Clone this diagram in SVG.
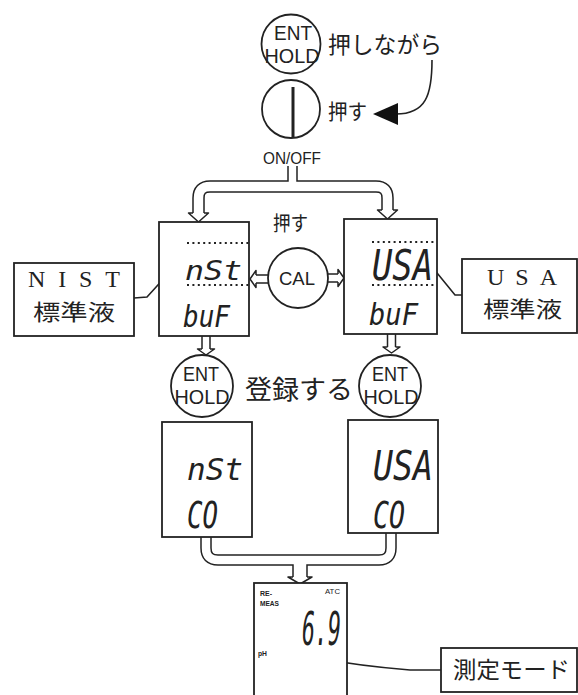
<svg xmlns="http://www.w3.org/2000/svg" width="578" height="695" viewBox="0 0 578 695">
<defs>
<style>
.bg{fill:#ffffff}
.ln{fill:none;stroke:#222;stroke-width:1.6}
.box{fill:#fff;stroke:#222;stroke-width:1.8}
.circ{fill:#fff;stroke:#222;stroke-width:1.8}
.pb{fill:none;stroke:#222;stroke-linejoin:round}
.pw{fill:none;stroke:#fff;stroke-linejoin:round}
.ah{fill:#fff;stroke:#222;stroke-width:1.5;stroke-linejoin:round}
.dot{stroke:#222;stroke-width:2;stroke-dasharray:2 3.4}
.sans{font-family:"Liberation Sans","DejaVu Sans",sans-serif;fill:#222}
.serif{font-family:"Liberation Serif","DejaVu Serif",serif;fill:#222}
.jp{font-family:"Noto Sans CJK JP","Noto Sans CJK SC",sans-serif;fill:#222}
.seg{font-family:"DejaVu Sans Mono","Liberation Mono",monospace;fill:#222;font-style:italic}
</style>
</defs>
<rect class="bg" width="578" height="695"/>

<g id="connectors">
  <!-- top pipe -->
  <path class="pb" stroke-width="12.5" d="M198.5,213 V198 Q198.5,186.5 210,186.5 H376 Q387.5,186.5 387.5,198 V210"/>
  <path class="pb" stroke-width="10.5" d="M292.5,166 V186.5"/>
  <!-- CAL arrows -->
  <path class="pb" stroke-width="9.5" d="M268,279 H256"/>
  <path class="pb" stroke-width="9.5" d="M328,278 H338"/>
  <!-- ENT arrows -->
  <path class="pb" stroke-width="9.5" d="M206,336 V349"/>
  <path class="pb" stroke-width="9.5" d="M391.5,334 V347"/>
  <!-- bottom pipe -->
  <path class="pb" stroke-width="11.5" d="M206,537 V548 Q206,560 218,560 H379 Q391,560 391,548 V533"/>
  <path class="pb" stroke-width="15.5" d="M300,560 V577"/>

  <path class="pw" stroke-width="9.5" d="M198.5,213 V198 Q198.5,186.5 210,186.5 H376 Q387.5,186.5 387.5,198 V210"/>
  <path class="pw" stroke-width="7.5" d="M292.5,165 V186.5"/>
  <path class="pw" stroke-width="6.5" d="M268.5,279 H256"/>
  <path class="pw" stroke-width="6.5" d="M327.5,278 H338"/>
  <path class="pw" stroke-width="6.5" d="M206,335.5 V349"/>
  <path class="pw" stroke-width="6.5" d="M391.5,333.5 V347"/>
  <path class="pw" stroke-width="8.5" d="M206,537 V548 Q206,560 218,560 H379 Q391,560 391,548 V533"/>
  <path class="pw" stroke-width="12.5" d="M300,560 V577"/>

  <!-- arrowheads -->
  <path class="ah" d="M193,213 L188.5,213 L198.5,222 L208.5,213 L204,213"/>
  <path class="ah" d="M382,210 L377.5,210 L387.5,219 L397.5,210 L393,210"/>
  <path class="ah" d="M256,275 L256,270.5 L250,279 L256,287.5 L256,283"/>
  <path class="ah" d="M338,274 L338,269.5 L344,278 L338,286.5 L338,282"/>
  <path class="ah" d="M202,349 L197.5,349 L206,355 L214.5,349 L210,349"/>
  <path class="ah" d="M387.5,347 L383,347 L391.5,353 L400,347 L395.5,347"/>
  <path class="ah" d="M293,577 L288,577 L300,584 L312,577 L307,577"/>

  <!-- curved arrow to power button -->
  <path class="ln" stroke-width="2.2" d="M432,60 C432,95 426,114 396,114"/>
  <polygon fill="#111" points="373,114 398,103 398,125"/>

  <!-- leader lines -->
  <polyline class="ln" points="134,298 147,297 167,275"/>
  <polyline class="ln" points="433,268 455,295 462,295"/>
  <path class="ln" d="M310,657 Q360,666 410,670 L441,670"/>
</g>

<g id="ent-hold-top">
  <circle class="circ" cx="291" cy="44" r="29.5"/>
  <text class="sans" x="293" y="40" font-size="20" text-anchor="middle" textLength="38" lengthAdjust="spacingAndGlyphs">ENT</text>
  <text class="sans" x="292" y="63" font-size="20" text-anchor="middle" textLength="55" lengthAdjust="spacingAndGlyphs">HOLD</text>
  <text class="jp" x="328" y="52.5" font-size="23" textLength="114" lengthAdjust="spacingAndGlyphs">押しながら</text>
</g>

<g id="power-button">
  <circle class="circ" cx="291" cy="109" r="29"/>
  <line x1="293" y1="87" x2="293" y2="137" stroke="#222" stroke-width="3"/>
  <text class="jp" x="328" y="118.5" font-size="21" textLength="39" lengthAdjust="spacingAndGlyphs">押す</text>
  <text class="sans" x="292" y="164" font-size="17" text-anchor="middle" textLength="58" lengthAdjust="spacingAndGlyphs">ON/OFF</text>
</g>

<g id="nist-buf">
  <rect class="box" x="159" y="222" width="90" height="114"/>
  <line class="dot" x1="187" y1="243" x2="249" y2="243"/>
  <line class="dot" x1="187" y1="285" x2="249" y2="285"/>
  <text class="seg" x="185" y="280" font-size="27" textLength="57" lengthAdjust="spacingAndGlyphs">nSt</text>
  <text class="seg" x="183" y="327" font-size="31" textLength="47" lengthAdjust="spacingAndGlyphs">buF</text>
</g>

<g id="cal-button">
  <text class="jp" x="273" y="231" font-size="20" textLength="35" lengthAdjust="spacingAndGlyphs">押す</text>
  <circle class="circ" cx="298" cy="278" r="30"/>
  <text class="sans" x="297" y="285" font-size="19" text-anchor="middle" textLength="36" lengthAdjust="spacingAndGlyphs">CAL</text>
</g>

<g id="usa-buf">
  <rect class="box" x="344" y="219" width="93" height="115"/>
  <line class="dot" x1="372" y1="242" x2="434" y2="242"/>
  <line class="dot" x1="372" y1="285" x2="434" y2="285"/>
  <text class="seg" x="372" y="280" font-size="42" textLength="61" lengthAdjust="spacingAndGlyphs">USA</text>
  <text class="seg" x="369" y="325" font-size="30" textLength="49" lengthAdjust="spacingAndGlyphs">buF</text>
</g>

<g id="nist-label">
  <rect class="box" x="14" y="263" width="120" height="73"/>
  <text class="serif" x="28" y="287" font-size="24" textLength="92" lengthAdjust="spacing">NIST</text>
  <text class="jp" x="33" y="320" font-size="22" textLength="82" lengthAdjust="spacingAndGlyphs">標準液</text>
</g>

<g id="usa-label">
  <rect class="box" x="462" y="259" width="115" height="74"/>
  <text class="serif" x="487" y="285" font-size="24" textLength="70" lengthAdjust="spacing">USA</text>
  <text class="jp" x="483" y="317" font-size="22" textLength="79" lengthAdjust="spacingAndGlyphs">標準液</text>
</g>

<g id="ent-hold-left">
  <circle class="circ" cx="202" cy="386" r="31"/>
  <text class="sans" x="201" y="381" font-size="20" text-anchor="middle" textLength="36" lengthAdjust="spacingAndGlyphs">ENT</text>
  <text class="sans" x="202" y="404" font-size="20" text-anchor="middle" textLength="55" lengthAdjust="spacingAndGlyphs">HOLD</text>
</g>

<g id="register-label">
  <text class="jp" x="245" y="399" font-size="26" textLength="108" lengthAdjust="spacingAndGlyphs">登録する</text>
</g>

<g id="ent-hold-right">
  <circle class="circ" cx="390" cy="386" r="31"/>
  <text class="sans" x="390" y="381" font-size="20" text-anchor="middle" textLength="36" lengthAdjust="spacingAndGlyphs">ENT</text>
  <text class="sans" x="391" y="404" font-size="20" text-anchor="middle" textLength="55" lengthAdjust="spacingAndGlyphs">HOLD</text>
</g>

<g id="nist-co">
  <rect class="box" x="162" y="422" width="90" height="115"/>
  <text class="seg" x="187" y="480" font-size="31" textLength="56" lengthAdjust="spacingAndGlyphs">nSt</text>
  <text class="seg" x="187" y="528" font-size="38" textLength="31" lengthAdjust="spacingAndGlyphs">CO</text>
</g>

<g id="usa-co">
  <rect class="box" x="348" y="420" width="90" height="113"/>
  <text class="seg" x="373" y="480" font-size="40" textLength="60" lengthAdjust="spacingAndGlyphs">USA</text>
  <text class="seg" x="373" y="528" font-size="38" textLength="32" lengthAdjust="spacingAndGlyphs">CO</text>
</g>

<g id="measure-display">
  <rect class="box" x="254" y="583" width="93" height="120"/>
  <text class="sans" x="260" y="596" font-size="8" font-weight="bold" textLength="12" lengthAdjust="spacingAndGlyphs">RE-</text>
  <text class="sans" x="260" y="606" font-size="6.5" font-weight="bold" textLength="19" lengthAdjust="spacingAndGlyphs">MEAS</text>
  <text class="sans" x="325" y="594" font-size="8" textLength="15" lengthAdjust="spacingAndGlyphs">ATC</text>
  <text class="seg" x="302" y="645" font-size="46" textLength="39" lengthAdjust="spacingAndGlyphs">6.9</text>
  <text class="sans" x="258" y="656" font-size="7" font-weight="bold" textLength="9" lengthAdjust="spacingAndGlyphs">pH</text>
</g>

<g id="measure-mode-label">
  <rect class="box" x="441" y="648" width="136" height="44"/>
  <text class="jp" x="453" y="678" font-size="23" textLength="117" lengthAdjust="spacingAndGlyphs">測定モード</text>
</g>
</svg>
